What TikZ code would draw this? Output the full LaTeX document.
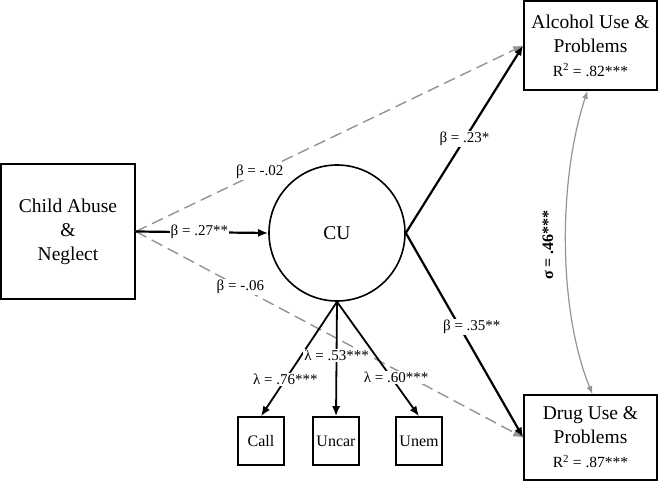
\documentclass[tikz,border=0pt]{standalone}
\usepackage{fontspec}
\setmainfont{Liberation Serif}
\usetikzlibrary{arrows.meta}
\tikzset{
 var/.style={draw,line width=1.6pt,rectangle,align=center,inner sep=2pt,font=\fontsize{19.5}{24}\selectfont},
 ind/.style={draw,line width=1.6pt,rectangle,minimum width=46pt,minimum height=48pt,inner sep=1pt,font=\fontsize{16}{18}\selectfont},
 path/.style={line width=2.2pt,-{Latex[length=10pt,width=8pt]}},
 load/.style={line width=1.8pt,-{Latex[length=10pt,width=8pt]}},
 ns/.style={gray!85,line width=1.4pt,dash pattern=on 12pt off 6pt,-{Latex[length=10pt,width=8pt]}},
 lbl/.style={fill=white,inner sep=1pt,text=black,font=\fontsize{15}{17}\selectfont},
}
\begin{document}
\begin{tikzpicture}[x=1pt,y=-1pt]
 \useasboundingbox (0,0) rectangle (658,486);
 % variables
 \node[var,minimum width=134pt,minimum height=135pt] (child) at (68,231.5) {Child Abuse\\\&\\Neglect};
 \node[draw,circle,line width=1.6pt,minimum size=136pt,font=\fontsize{19.5}{24}\selectfont] (cu) at (337,233) {CU};
 \node[var,minimum width=133pt,minimum height=89pt] (alc) at (590.5,45.5) {Alcohol Use \&\\Problems\\{\fontsize{15.5}{18}\selectfont R\textsuperscript{2} = .82***}};
 \node[var,minimum width=133pt,minimum height=85pt] (drug) at (590.5,437.5) {Drug Use \&\\Problems\\{\fontsize{15.5}{18}\selectfont R\textsuperscript{2} = .87***}};
 \node[ind] (call) at (261,441) {Call};
 \node[ind] (uncar) at (336,441) {Uncar};
 \node[ind] (unem) at (419,441) {Unem};
 % direct paths
 \draw[ns] (child.east) -- node[lbl,pos=0.32]{β = -.02} (alc.west);
 \draw[ns] (child.east) -- node[lbl,pos=0.27]{β = -.06} (drug.west);
 \draw[path] (child.east) -- node[lbl,pos=0.48]{β = .27**} (cu.west);
 \draw[path] (cu.east) -- node[lbl,pos=0.5]{β = .23*} (alc.west);
 \draw[path] (cu.east) -- node[lbl,pos=0.46,xshift=12pt]{β = .35**} (drug.west);
 % loadings
 \draw[load] (cu.south) -- node[lbl,pos=0.68]{λ = .76***} (call.north);
 \draw[load] (cu.south) -- node[lbl,pos=0.47]{λ = .53***} (uncar.north);
 \draw[load] (cu.south) -- node[lbl,pos=0.66,xshift=5pt]{λ = .60***} (unem.north);
 % residual correlation
 \draw[gray!85,line width=1.2pt,{Latex[length=8pt,width=6pt]}-{Latex[length=8pt,width=6pt]}]
  ([xshift=-3pt]alc.south) .. controls (558,180) and (558,310) .. ([xshift=2pt]drug.north);
 \node[rotate=90,font=\bfseries\fontsize{16}{18}\selectfont] (rho) at (548,245) {σ = .46***};
\end{tikzpicture}
\end{document}
